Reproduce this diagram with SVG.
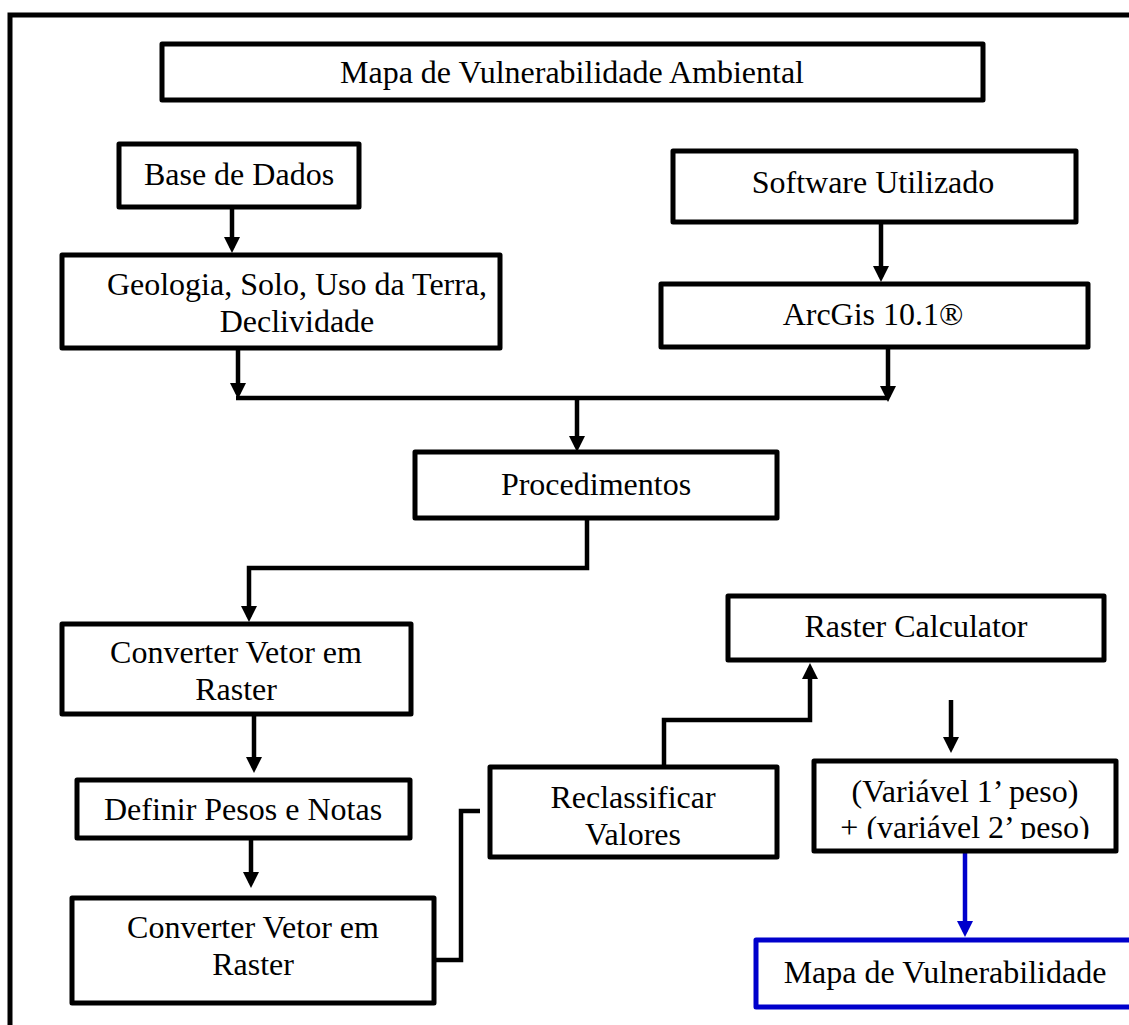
<svg xmlns="http://www.w3.org/2000/svg" width="1129" height="1025" viewBox="0 0 1129 1025">
<style>
.box{fill:#fff;stroke:#000;stroke-width:5;stroke-linejoin:round}
.blue{fill:#fff;stroke:#0000cc;stroke-width:5;stroke-linejoin:round}
.t{font-family:"Liberation Serif","Times New Roman",serif;font-size:32px;fill:#000;text-anchor:middle}
.c{fill:none;stroke:#000;stroke-width:4.5}
.cb{fill:none;stroke:#0000cc;stroke-width:4.5}
.frame{fill:none;stroke:#000;stroke-width:5}
</style>
<defs>
<marker id="ah" viewBox="0 0 16 16" refX="11" refY="8" markerWidth="16" markerHeight="16" markerUnits="userSpaceOnUse" orient="auto"><path d="M0,0 L16,8 L0,16 z" fill="#000"/></marker>
<marker id="ahb" viewBox="0 0 16 16" refX="11" refY="8" markerWidth="16" markerHeight="16" markerUnits="userSpaceOnUse" orient="auto"><path d="M0,0 L16,8 L0,16 z" fill="#0000cc"/></marker>
<clipPath id="clipf"><rect x="814" y="761" width="302" height="78"/></clipPath>
</defs>
<rect width="1129" height="1025" fill="#fff"/>
<path class="frame" d="M10,1030 V15 H1135"/>

<g id="connectors">
<path class="c" d="M232,207 V248" marker-end="url(#ah)"/>
<path class="c" d="M238,348 V394" marker-end="url(#ah)"/>
<path class="c" d="M881,222 V277" marker-end="url(#ah)"/>
<path class="c" d="M888,347 V397" marker-end="url(#ah)"/>
<path class="c" d="M236,398 H889"/>
<path class="c" d="M577,398 V447" marker-end="url(#ah)"/>
<path class="c" d="M587,518 V568 H249 V617" marker-end="url(#ah)"/>
<path class="c" d="M254,714 V768" marker-end="url(#ah)"/>
<path class="c" d="M251,838 V883" marker-end="url(#ah)"/>
<path class="c" d="M434,960 H461 V811 H480"/>
<path class="c" d="M664,767 V720 H810 V668" marker-end="url(#ah)"/>
<path class="c" d="M951,700 V748" marker-end="url(#ah)"/>
<path class="cb" d="M965,851 V932" marker-end="url(#ahb)"/>
</g>

<g id="title"><rect class="box" x="162" y="44" width="821" height="56"/><text class="t" x="572" y="83">Mapa de Vulnerabilidade Ambiental</text></g>
<g id="base"><rect class="box" x="119" y="144" width="240" height="63"/><text class="t" x="239" y="185">Base de Dados</text></g>
<g id="software"><rect class="box" x="673" y="151" width="403" height="71"/><text class="t" x="873" y="193">Software Utilizado</text></g>
<g id="geologia"><rect class="box" x="62" y="255" width="438" height="93"/><text class="t" x="297" y="295">Geologia, Solo, Uso da Terra,</text><text class="t" x="297" y="332">Declividade</text></g>
<g id="arcgis"><rect class="box" x="661" y="284" width="427" height="63"/><text class="t" x="873" y="325">ArcGis 10.1®</text></g>
<g id="procedimentos"><rect class="box" x="415" y="452" width="362" height="66"/><text class="t" x="596" y="495">Procedimentos</text></g>
<g id="converter1"><rect class="box" x="62" y="624" width="349" height="90"/><text class="t" x="236" y="663">Converter Vetor em</text><text class="t" x="236" y="700">Raster</text></g>
<g id="rastercalc"><rect class="box" x="728" y="596" width="376" height="64"/><text class="t" x="916" y="637">Raster Calculator</text></g>
<g id="definir"><rect class="box" x="77" y="780" width="333" height="58"/><text class="t" x="243" y="820">Definir Pesos e Notas</text></g>
<g id="reclass"><rect class="box" x="490" y="767" width="287" height="90"/><text class="t" x="633" y="808">Reclassificar</text><text class="t" x="633" y="845">Valores</text></g>
<g id="converter2"><rect class="box" x="72" y="898" width="362" height="105"/><text class="t" x="253" y="938">Converter Vetor em</text><text class="t" x="253" y="975">Raster</text></g>
<g id="formula"><rect class="box" x="814" y="761" width="302" height="90"/><g clip-path="url(#clipf)"><text class="t" x="965" y="802">(Variável 1’ peso)</text><text class="t" x="965" y="838">+ (variável 2’ peso)</text></g></g>
<g id="mapa"><rect class="blue" x="756" y="940" width="400" height="67"/><text class="t" x="945" y="983">Mapa de Vulnerabilidade</text></g>
</svg>
